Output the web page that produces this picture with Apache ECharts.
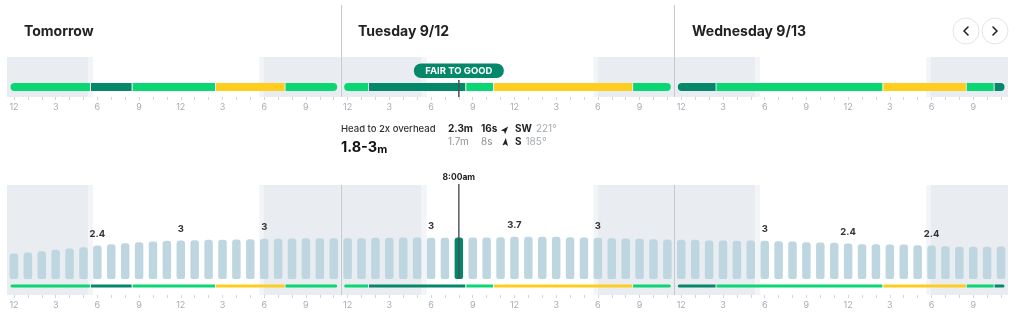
<!DOCTYPE html>
<html>
<head>
<meta charset="utf-8">
<title>Surf forecast</title>
<script src="https://cdn.jsdelivr.net/npm/echarts@6.0.0/dist/echarts.min.js"></script>
<style>
  html, body { margin: 0; padding: 0; background: #ffffff; }
  #chart { width: 1024px; height: 322px; }
</style>
</head>
<body>
<div id="chart"></div>
<script>
// headers for the three days
const dayTitles = ['Tomorrow', 'Tuesday 9/12', 'Wednesday 9/13'];

// surf height per hour (m), one array per day
const surfDay1 = [1.25, 1.39, 1.57, 1.76, 1.95, 2.13, 2.37, 2.55, 2.69, 2.83, 2.92, 3.02,
                  3.06, 3.11, 3.16, 3.16, 3.20, 3.25, 3.30, 3.30, 3.34, 3.39, 3.39, 3.39];
const surfDay2 = [3.39, 3.39, 3.44, 3.44, 3.48, 3.48, 3.44, 3.44, 3.48, 3.48, 3.48, 3.53,
                  3.58, 3.58, 3.58, 3.58, 3.53, 3.48, 3.44, 3.39, 3.34, 3.30, 3.25, 3.20];
const surfDay3 = [3.16, 3.16, 3.06, 3.06, 3.02, 3.06, 3.02, 2.97, 2.92, 2.83, 2.78, 2.74,
                  2.64, 2.55, 2.55, 2.50, 2.50, 2.41, 2.37, 2.27, 2.18, 2.18, 2.18, 2.23];

// labels shown over the bars every 6 hours
const labelHours = [6, 12, 18, 30, 36, 42, 54, 60, 66];
const labelTexts = ['2.4', '3', '3', '3', '3.7', '3', '3', '2.4', '2.4'];

// ratings: [startHour, endHour, rating]
const ratingNames = ['FAIR', 'FAIR TO GOOD', 'POOR TO FAIR'];
const ratingColors = ['#0bd674', '#05876a', '#ffcd1e'];
const ratingsDay1 = [[0, 6, 0], [6, 9, 1], [9, 15, 0], [15, 20, 2], [20, 24, 0]];
const ratingsDay2 = [[24, 26, 0], [26, 33, 1], [33, 35, 0], [35, 45, 2], [45, 48, 0]];
const ratingsDay3 = [[48, 51, 1], [51, 63, 0], [63, 69, 2], [69, 71, 0], [71, 72, 1]];

// first light, sunrise, sunset, last light (hours from start)
const sunTimes = [[5.82, 6.18, 18.15, 18.48], [29.82, 30.19, 42.18, 42.5], [53.81, 54.17, 66.12, 66.45]];

// selected hour
const cursorHour = 32;
const cursorLabel = '8:00am';
const cursorRating = 1;

// summary for the selected hour
const surfRange = '1.8-3';
const surfDesc = 'Head to 2x overhead';
const swellHeights = ['2.3m', '1.7m'];
const swellPeriods = ['16s', '8s'];
const swellDirNames = ['SW', 'S'];
const swellDirs = [221, 185];

const yMin = -2.3;
const yMax = 10.8;
const FONT = 'Inter';

const surf = surfDay1.concat(surfDay2, surfDay3);
const ratings = ratingsDay1.concat(ratingsDay2, ratingsDay3);
const hourCats = surf.map(function (_, i) {
  const h = i % 24;
  return String(h % 12 === 0 ? 12 : h % 12);
});
const bands = [];
sunTimes.forEach(function (s, d) {
  bands.push([d * 24, s[0], 0], [s[0], s[1], 1], [s[2], s[3], 1], [s[3], d * 24 + 24, 0]);
});
const dayEdges = [[24], [48]];

function bandItem(params, api) {
  const cs = params.coordSys;
  const x0 = api.coord([api.value(0), 0])[0];
  const x1 = api.coord([api.value(1), 0])[0];
  return {
    type: 'rect', silent: true,
    shape: { x: x0, y: cs.y, width: x1 - x0, height: cs.height },
    style: { fill: api.value(2) ? '#f3f4f7' : '#e9ecf0' }
  };
}

function edgeItem(topY) {
  return function (params, api) {
    const cs = params.coordSys;
    const x = Math.round(api.coord([api.value(0), 0])[0]) + 0.5;
    return {
      type: 'line', silent: true,
      shape: { x1: x, y1: topY == null ? cs.y : topY, x2: x, y2: cs.y + cs.height },
      style: { stroke: '#c6c9cd', lineWidth: 1 }
    };
  };
}

function ratingItem(offsetY, thick, inset) {
  return function (params, api) {
    const cs = params.coordSys;
    const s = api.value(0), e = api.value(1);
    const startDay = s % 24 === 0, endDay = e % 24 === 0;
    let x0 = api.coord([s, 0])[0], x1 = api.coord([e, 0])[0];
    x0 += startDay ? inset : 0.5;
    x1 -= endDay ? inset : 0.5;
    const rad = thick / 2;
    return {
      type: 'rect',
      shape: {
        x: x0, y: cs.y + offsetY - thick / 2, width: x1 - x0, height: thick,
        r: [startDay ? rad : 0, endDay ? rad : 0, endDay ? rad : 0, startDay ? rad : 0]
      },
      style: { fill: ratingColors[api.value(2)] }
    };
  };
}

function barItem(params, api) {
  const i = api.value(0);
  const top = api.coord([i, api.value(1)]);
  const base = api.coord([i, yMin]);
  const w = api.size([1, 0])[0] * 0.61;
  const kids = [{
    type: 'rect',
    shape: { x: top[0] - w / 2, y: top[1], width: w, height: base[1] - top[1], r: [3, 3, 2, 2] },
    style: { fill: i === cursorHour ? '#05876a' : '#bdd6e0' }
  }];
  const li = labelHours.indexOf(i);
  if (li >= 0) {
    kids.push({
      type: 'text', x: top[0], y: top[1] - 11.5,
      style: {
        text: labelTexts[li], align: 'center', verticalAlign: 'middle',
        fontSize: 9.5, fontWeight: 'bold', fontFamily: FONT, fill: '#333'
      }
    });
  }
  return { type: 'group', children: kids };
}

function cursorBarItem(params, api) {
  const cs = params.coordSys;
  const i = api.value(0);
  const x = api.coord([i, 0])[0];
  const base = api.coord([i, yMin])[1];
  return {
    type: 'group',
    children: [
      { type: 'line', shape: { x1: x, y1: cs.y - 1, x2: x, y2: base }, style: { stroke: '#4a4f54', lineWidth: 1.4 } },
      {
        type: 'text', x: x, y: cs.y - 8,
        style: {
          text: cursorLabel, align: 'center', verticalAlign: 'middle',
          fontSize: 8.5, fontWeight: 'bold', fontFamily: FONT, fill: '#222'
        }
      }
    ]
  };
}

function cursorTopItem(params, api) {
  const cs = params.coordSys;
  const x = api.coord([api.value(0), 0])[0];
  return {
    type: 'group',
    children: [
      { type: 'line', shape: { x1: x, y1: cs.y + 23, x2: x, y2: cs.y + cs.height }, style: { stroke: '#4a4f54', lineWidth: 1.5 } },
      { type: 'rect', shape: { x: x - 45, y: cs.y + 6.5, width: 90, height: 14.5, r: 7.25 }, style: { fill: ratingColors[cursorRating] } },
      {
        type: 'text', x: x, y: cs.y + 14,
        style: {
          text: ratingNames[cursorRating], align: 'center', verticalAlign: 'middle',
          fontSize: 9.5, fontWeight: 'bold', fontFamily: FONT, fill: '#ffffff'
        }
      }
    ]
  };
}

function hourAxis(g) {
  return {
    type: 'category', gridIndex: g, data: hourCats, boundaryGap: true,
    axisLine: { show: false },
    axisTick: { show: true, interval: 0, alignWithLabel: true, length: 3, lineStyle: { color: '#d3d7dc' } },
    axisLabel: { interval: 2, margin: 6, color: '#a8adb3', fontSize: 9, fontFamily: FONT },
    splitLine: { show: false }
  };
}
function hiddenHours(g) {
  return { type: 'value', gridIndex: g, min: 0, max: 72, show: false };
}

// header graphics
const graphics = [];
dayTitles.forEach(function (t, d) {
  graphics.push({
    type: 'text', x: 24 + d * 334, y: 32,
    style: { text: t, fontSize: 14, fontWeight: 'bold', fontFamily: FONT, fill: '#222', verticalAlign: 'middle' }
  });
});
[[966, -1], [995, 1]].forEach(function (b) {
  graphics.push({ type: 'circle', shape: { cx: b[0], cy: 31, r: 13 }, style: { fill: '#fff', stroke: '#e3e5e8', lineWidth: 1 } });
  graphics.push({
    type: 'polyline',
    shape: { points: [[b[0] - b[1] * 2, 27], [b[0] + b[1] * 2, 31], [b[0] - b[1] * 2, 35]] },
    style: { stroke: '#222', lineWidth: 1.6, lineCap: 'round', lineJoin: 'round', fill: null }
  });
});
[69, 197].forEach(function (cy) {
  graphics.push({ type: 'circle', shape: { cx: 996, cy: cy, r: 5.5 }, style: { fill: null, stroke: '#333', lineWidth: 1.1 } });
  graphics.push({ type: 'rect', shape: { x: 995.4, y: cy - 1, width: 1.2, height: 3.8 }, style: { fill: '#333' } });
  graphics.push({ type: 'circle', shape: { cx: 996, cy: cy - 2.8, r: 0.75 }, style: { fill: '#333' } });
});

// summary text for the selected hour
graphics.push({
  type: 'text', x: 341, y: 129,
  style: { text: surfDesc, fontSize: 9.5, fontWeight: 500, fontFamily: FONT, fill: '#333', verticalAlign: 'middle' }
});
graphics.push({
  type: 'text', x: 341, y: 155,
  style: {
    text: '{a|' + surfRange + '}{b|m}', verticalAlign: 'bottom',
    rich: {
      a: { fontSize: 14.5, fontWeight: 'bold', fontFamily: FONT, fill: '#111', verticalAlign: 'bottom' },
      b: { fontSize: 11, fontWeight: 'bold', fontFamily: FONT, fill: '#111', verticalAlign: 'bottom' }
    }
  }
});
[129, 141.5].forEach(function (y, r) {
  const main = r === 0;
  graphics.push({
    type: 'text', x: 448, y: y,
    style: { text: swellHeights[r], fontSize: 10, fontWeight: main ? 'bold' : 'normal', fontFamily: FONT, fill: main ? '#222' : '#8e9398', verticalAlign: 'middle' }
  });
  graphics.push({
    type: 'text', x: 481, y: y,
    style: { text: swellPeriods[r], fontSize: 10, fontWeight: main ? 'bold' : 'normal', fontFamily: FONT, fill: main ? '#222' : '#8e9398', verticalAlign: 'middle' }
  });
  graphics.push({
    type: 'polygon', x: 505.5, y: y + 0.5,
    rotation: -((swellDirs[r] + 180) % 360) * Math.PI / 180,
    shape: { points: [[0, -4], [2.8, 3.8], [0, 2.2], [-2.8, 3.8]] },
    style: { fill: '#222' }
  });
  graphics.push({
    type: 'text', x: 515, y: y,
    style: {
      text: '{n|' + swellDirNames[r] + '}{d|' + swellDirs[r] + '°}', verticalAlign: 'middle',
      rich: {
        n: { fontSize: 10, fontWeight: 'bold', fontFamily: FONT, fill: '#222' },
        d: { fontSize: 10, fontFamily: FONT, fill: '#a5abb1', padding: [0, 0, 0, 4] }
      }
    }
  });
});

const chart = echarts.init(document.getElementById('chart'));
chart.setOption({
  animation: false,
  backgroundColor: '#ffffff',
  grid: [
    { left: 7, right: 16, top: 57, height: 40 },
    { left: 7, right: 16, top: 185, height: 110 },
    { left: 7, right: 16, top: 185, bottom: 43 }
  ],
  xAxis: [
    hourAxis(0), hiddenHours(0),
    hourAxis(1), hiddenHours(1),
    { type: 'category', gridIndex: 2, data: hourCats, show: false }
  ],
  yAxis: [
    { type: 'value', gridIndex: 0, min: 0, max: 1, show: false },
    { type: 'value', gridIndex: 1, min: 0, max: 1, show: false },
    { type: 'value', gridIndex: 2, min: yMin, max: yMax, show: false }
  ],
  graphic: graphics,
  series: [
    { type: 'custom', xAxisIndex: 1, yAxisIndex: 0, data: bands, renderItem: bandItem, z: 1 },
    { type: 'custom', xAxisIndex: 3, yAxisIndex: 1, data: bands, renderItem: bandItem, z: 1 },
    { type: 'custom', xAxisIndex: 1, yAxisIndex: 0, data: dayEdges, renderItem: edgeItem(5), z: 2 },
    { type: 'custom', xAxisIndex: 3, yAxisIndex: 1, data: dayEdges, renderItem: edgeItem(null), z: 2 },
    { type: 'custom', xAxisIndex: 1, yAxisIndex: 0, data: ratings, renderItem: ratingItem(30, 8, 3.5), z: 3 },
    { type: 'custom', xAxisIndex: 3, yAxisIndex: 1, data: ratings, renderItem: ratingItem(101, 3, 3.5), z: 3 },
    { type: 'custom', xAxisIndex: 4, yAxisIndex: 2, data: surf.map(function (v, i) { return [i, v]; }), renderItem: barItem, z: 4 },
    { type: 'custom', xAxisIndex: 4, yAxisIndex: 2, data: [[cursorHour, surf[cursorHour]]], renderItem: cursorBarItem, z: 5 },
    { type: 'custom', xAxisIndex: 1, yAxisIndex: 0, data: [[cursorHour + 0.5]], renderItem: cursorTopItem, z: 5 }
  ]
});
</script>
</body>
</html>
